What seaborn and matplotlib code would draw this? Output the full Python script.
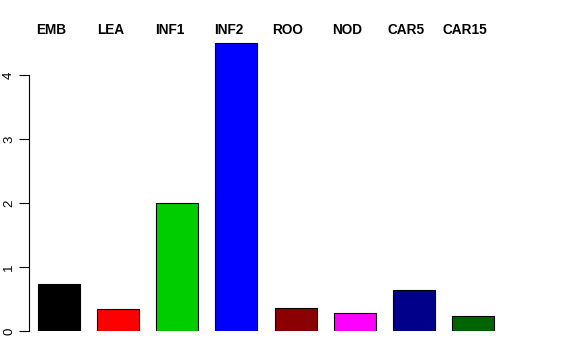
import matplotlib
matplotlib.use("Agg")
import matplotlib.pyplot as plt
import seaborn as sns
import pandas as pd

categories = ["EMB", "LEA", "INF1", "INF2", "ROO", "NOD", "CAR5", "CAR15"]
values = [0.74, 0.35, 2.0, 4.5, 0.355, 0.28, 0.645, 0.24]
colors = ["#000000", "#FF0000", "#00CD00", "#0000FF", "#8B0000", "#FF00FF", "#00008B", "#006400"]
yticks = [0, 1, 2, 3, 4]

sns.set_style("ticks")
plt.rcParams["font.family"] = ["Liberation Sans", "DejaVu Sans"]
plt.rcParams["text.color"] = "black"
plt.rcParams["ytick.color"] = "black"
plt.rcParams["ytick.labelcolor"] = "black"

W, H = 576, 360
fig = plt.figure(figsize=(W / 100, H / 100), dpi=100)
ppu_x = 59.14
ppu_y = 64.0
left_px, bottom_px = 29, 331
ymax = 4.6
xmin = -0.507
width_px = 516
ax = fig.add_axes([left_px / W, (H - bottom_px) / H, width_px / W, ymax * ppu_y / H])

df = pd.DataFrame({"cat": categories, "val": values})
sns.barplot(data=df, x="cat", y="val", hue="cat", palette=colors, order=categories,
            hue_order=categories, legend=False, width=0.71, edgecolor="black",
            linewidth=0.8, saturation=1, ax=ax)

ax.set_xlim(xmin, xmin + width_px / ppu_x)
ax.set_ylim(0, ymax)
for s in ["top", "right", "bottom"]:
    ax.spines[s].set_visible(False)
ax.spines["left"].set_bounds(0, 4)
ax.spines["left"].set_color("black")
ax.spines["left"].set_linewidth(0.8)
ax.set_xticks([])
ax.set_yticks(yticks)
ax.set_yticklabels([str(t) for t in yticks], rotation=90, va="center", fontsize=9.5, color="black")
ax.tick_params(axis="y", length=7, width=0.8, color="black", pad=3)
ax.set_xlabel("")
ax.set_ylabel("")

top_y = (bottom_px - 34) / ppu_y
for i, c in enumerate(categories):
    ax.text(i - 0.13, top_y, c, ha="center", va="baseline", fontsize=9.8,
            fontweight="bold", color="black", clip_on=False)

fig.savefig("out.png", dpi=100)
